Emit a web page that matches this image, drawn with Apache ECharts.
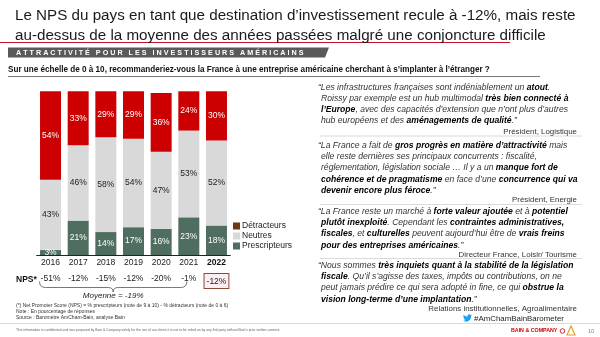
<!DOCTYPE html>
<html>
<head>
<meta charset="utf-8">
<script src="https://cdn.jsdelivr.net/npm/echarts@6/dist/echarts.min.js"></script>
<style>
  html, body { margin: 0; padding: 0; background: #fff; }
  #chart { width: 600px; height: 337px; }
</style>
</head>
<body>
<div id="chart"></div>
<script>
// Survey years and response shares (%)
const years = ['2016', '2017', '2018', '2019', '2020', '2021', '2022'];
const prescripteurs = [3, 21, 14, 17, 16, 23, 18];
const neutres = [43, 46, 58, 54, 47, 53, 52];
const detracteurs = [54, 33, 29, 29, 36, 24, 30];
// Net Promoter Score per year, as printed under the axis
const nps = ['-51%', '-12%', '-15%', '-12%', '-20%', '-1%', '-12%'];
const moyenne = '-19%';

const FONT = '"Liberation Sans", Arial, sans-serif';
const NARROW = '"Liberation Sans Narrow", "Liberation Sans", Arial, sans-serif';
const RED = '#CC0000';
const GREY = '#D9D9D9';
const GREEN = '#4F6E60';

const chart = echarts.init(document.getElementById('chart'), null, { renderer: 'canvas' });

function barLabel(color) {
  return {
    show: true,
    position: 'inside',
    color: color,
    fontFamily: FONT,
    fontSize: 8.5,
    formatter: p => p.value + '%'
  };
}

const option = {
  animation: false,
  backgroundColor: '#fff',
  grid: { left: 36.7, top: 91.3, width: 193.6, height: 163.7 },
  legend: {
    orient: 'vertical',
    left: 233,
    top: 221.5,
    padding: 0,
    itemWidth: 7,
    itemHeight: 7,
    itemGap: 1,
    icon: 'rect',
    textStyle: { fontFamily: FONT, fontSize: 8.5, color: '#222', padding: [0, 0, 0, -3] },
    data: [
      { name: 'Détracteurs', itemStyle: { color: '#6B3A12' } },
      { name: 'Neutres' },
      { name: 'Prescripteurs' }
    ]
  },
  xAxis: [
    {
      type: 'category',
      data: years,
      axisLine: { lineStyle: { color: '#222', width: 1 } },
      axisTick: { show: false },
      axisLabel: {
        interval: 0,
        margin: 3,
        fontFamily: FONT,
        fontSize: 8.5,
        color: '#222',
        formatter: (v, i) => i === years.length - 1 ? '{b|' + v + '}' : v,
        rich: { b: { fontWeight: 'bold', fontFamily: FONT, fontSize: 8.5, color: '#111' } }
      }
    },
    {
      type: 'category',
      data: nps,
      position: 'bottom',
      offset: 16,
      axisLine: { show: false },
      axisTick: { show: false },
      axisLabel: {
        interval: 0,
        margin: 3,
        fontFamily: FONT,
        fontSize: 8.5,
        color: '#222',
        formatter: (v, i) => i === nps.length - 1 ? '{box|' + v + '}' : v,
        rich: {
          box: {
            fontFamily: FONT, fontSize: 8.5, color: '#222',
            backgroundColor: '#FCEFF4', borderColor: '#8A4A3C', borderWidth: 1,
            padding: [3, 2, 2, 2]
          }
        }
      }
    }
  ],
  yAxis: { type: 'value', min: 0, max: 100, show: false },
  series: [
    {
      name: 'Prescripteurs', type: 'bar', stack: 'a', barWidth: 21,
      itemStyle: { color: GREEN },
      label: barLabel('#fff'),
      data: prescripteurs
    },
    {
      name: 'Neutres', type: 'bar', stack: 'a', barWidth: 21,
      itemStyle: { color: GREY },
      label: barLabel('#222'),
      data: neutres
    },
    {
      name: 'Détracteurs', type: 'bar', stack: 'a', barWidth: 21,
      itemStyle: { color: RED },
      label: barLabel('#fff'),
      data: detracteurs
    }
  ]
};
chart.setOption(option);

// ---- text and decoration around the chart ----
const g = [];

function txt(x, y, text, opts) {
  g.push({
    type: 'text', x: x, y: y, z: 10,
    style: Object.assign({
      text: text, fontFamily: FONT, fontSize: 8, fill: '#222',
      textVerticalAlign: 'middle', textAlign: 'left'
    }, opts || {})
  });
}
function line(x1, y1, x2, y2, color, w) {
  g.push({ type: 'line', z: 5, shape: { x1, y1, x2, y2 }, style: { stroke: color, lineWidth: w } });
}
function curve(x1, y1, cx, cy, x2, y2, color, w) {
  g.push({ type: 'bezierCurve', z: 10, shape: { x1, y1, x2, y2, cpx1: cx, cpy1: cy }, style: { stroke: color, lineWidth: w, fill: null } });
}

// Title
txt(15, 16, 'Le NPS du pays en tant que destination d\u2019investissement recule à -12%, mais reste', { fontSize: 15.2, fill: '#1a1a1a' });
txt(15, 35.5, 'au-dessus de la moyenne des années passées malgré une conjoncture difficile', { fontSize: 15.2, fill: '#1a1a1a' });
line(0, 42.5, 510, 42.5, '#C8102E', 1.2);

// Section banner
g.push({ type: 'polygon', z: 4, shape: { points: [[8, 47.5], [329, 47.5], [325, 57.5], [8, 57.5]] }, style: { fill: '#595959' } });
const banner = 'ATTRACTIVITÉ POUR LES INVESTISSEURS AMÉRICAINS'.split(' ').map(w => w.split('').join(' ')).join('   ');
txt(16, 52.8, banner, { fontSize: 7.2, fontWeight: 'bold', fill: '#fff' });

// Survey question
txt(8, 70, 'Sur une échelle de 0 à 10, recommanderiez-vous la France à une entreprise américaine cherchant à s\u2019implanter à l\u2019étranger ?', { fontSize: 8.15, fontWeight: 'bold', fontFamily: NARROW, fill: '#111' });
line(8, 76.5, 540, 76.5, '#555', 0.8);

// NPS row caption
txt(16, 279.5, 'NPS*', { fontSize: 8.5, fontWeight: 'bold', fill: '#111' });

// Footnotes
txt(16, 306, '(*) Net Promoter Score (NPS) = % prescripteurs (note de 9 à 10) - % détracteurs (note de 0 à 6)', { fontSize: 5, fill: '#333' });
txt(16, 312, 'Note : En pourcentage de réponses', { fontSize: 5, fill: '#333' });
txt(16, 318, 'Source : Baromètre AmCham-Bain, analyse Bain', { fontSize: 5, fill: '#333' });
line(0, 323.5, 600, 323.5, '#cfcfcf', 0.8);
txt(16, 330.5, 'This information is confidential and was prepared by Bain & Company solely for the use of our client; it is not to be relied on by any 3rd party without Bain\u2019s prior written consent.', { fontSize: 3.4, fill: '#666' });

// Quotes
const QS = 8.6;
const rich = { b: { fontWeight: 'bold', fontStyle: 'italic', fontFamily: FONT, fontSize: QS, fill: '#000' } };
function q(x, y, s) {
  txt(x, y, s, { fontSize: QS, fontStyle: 'italic', fill: '#333', rich: rich });
}
function attrib(y, s) {
  txt(577, y, s, { fontSize: 7.9, fill: '#333', textAlign: 'right' });
}

q(318, 88, '\u201CLes infrastructures françaises sont indéniablement un {b|atout}.');
q(321, 99, 'Roissy par exemple est un hub multimodal {b|très bien connecté à}');
q(321, 110, '{b|l\u2019Europe}, avec des capacités d\u2019extension que n\u2019ont plus d\u2019autres');
q(321, 121, 'hub européens et des {b|aménagements de qualité}.\u201D');
attrib(131.5, 'Président, Logistique');
line(320, 136, 582, 136, '#d0d0d0', 0.8);

q(318, 146, '\u201CLa France a fait de {b|gros progrès en matière d\u2019attractivité} mais');
q(321, 157, 'elle reste dernières ses principaux concurrents : fiscalité,');
q(321, 168, 'réglementation, législation sociale \u2026 Il y a un {b|manque fort de}');
q(321, 180, '{b|cohérence et de pragmatisme} en face d\u2019une {b|concurrence qui va}');
q(321, 191, '{b|devenir encore plus féroce}.\u201D');
attrib(200, 'Président, Energie');
line(320, 204.5, 582, 204.5, '#d0d0d0', 0.8);

q(318, 211.5, '\u201CLa France reste un marché à {b|forte valeur ajoutée} et à {b|potentiel}');
q(321, 223, '{b|plutôt inexploité}. Cependant les {b|contraintes administratives,}');
q(321, 234, '{b|fiscales}, et {b|culturelles} peuvent aujourd\u2019hui être de {b|vrais freins}');
q(321, 245.5, '{b|pour des entreprises américaines}.\u201D');
attrib(254.5, 'Directeur France, Loisir/ Tourisme');
line(320, 258.5, 582, 258.5, '#d0d0d0', 0.8);

q(318, 265.5, '\u201CNous sommes {b|très inquiets quant à la stabilité de la législation}');
q(321, 277, '{b|fiscale}. Qu\u2019il s\u2019agisse des taxes, impôts ou contributions, on ne');
q(321, 288, 'peut jamais prédire ce qui sera adopté in fine, ce qui {b|obstrue la}');
q(321, 299.5, '{b|vision long-terme d\u2019une implantation}.\u201D');
attrib(308.5, 'Relations institutionnelles, Agroalimentaire');

// Hashtag with bird icon
const birdSvg = '<svg xmlns="http://www.w3.org/2000/svg" viewBox="0 0 24 24"><path fill="#1DA1F2" d="M23.953 4.57a10 10 0 01-2.825.775 4.958 4.958 0 002.163-2.723c-.951.555-2.005.959-3.127 1.184a4.92 4.92 0 00-8.384 4.482C7.69 8.095 4.067 6.13 1.64 3.162a4.822 4.822 0 00-.666 2.475c0 1.710.87 3.213 2.188 4.096a4.904 4.904 0 01-2.228-.616v.06a4.923 4.923 0 003.946 4.827 4.996 4.996 0 01-2.212.085 4.936 4.936 0 004.604 3.417 9.867 9.867 0 01-6.102 2.105c-.39 0-.779-.023-1.17-.067a13.995 13.995 0 007.557 2.209c9.053 0 13.998-7.496 13.998-13.985 0-.21 0-.42-.015-.63A9.935 9.935 0 0024 4.59z"/></svg>';
g.push({
  type: 'image', z: 10,
  style: { image: 'data:image/svg+xml;charset=utf-8,' + encodeURIComponent(birdSvg), x: 463, y: 313.5, width: 9, height: 9 }
});
txt(474, 318.5, '#AmChamBainBarometer', { fontSize: 7.9, fill: '#222' });

// Footer brand mark and page number
txt(511, 331, 'BAIN & COMPANY', { fontSize: 5.3, fontWeight: 'bold', fill: '#CC0000' });
g.push({ type: 'circle', z: 10, shape: { cx: 562.5, cy: 331, r: 2.3 }, style: { fill: 'none', stroke: '#CC0000', lineWidth: 0.8 } });
g.push({ type: 'polygon', z: 10, shape: { points: [[567, 335], [571, 326], [575, 335]] }, style: { fill: 'none', stroke: '#E0A030', lineWidth: 1.2 } });
txt(588, 331, '10', { fontSize: 5.6, fill: '#888' });

// Brace under the 2016-2021 NPS values and the average
const x0 = chart.convertToPixel({ xAxisIndex: 0 }, 0) - 11;
const x1 = chart.convertToPixel({ xAxisIndex: 0 }, years.length - 2) - 2;
const xm = (x0 + x1) / 2;
const yt = 281.5, ymid = 287.5, yb = 292;
const BC = '#555', BW = 0.8;
curve(x0, yt, x0, ymid, x0 + 6, ymid, BC, BW);
line(x0 + 6, ymid, xm - 5, ymid, BC, BW);
curve(xm - 5, ymid, xm, ymid, xm, yb, BC, BW);
curve(xm, yb, xm, ymid, xm + 5, ymid, BC, BW);
line(xm + 5, ymid, x1 - 6, ymid, BC, BW);
curve(x1 - 6, ymid, x1, ymid, x1, yt, BC, BW);
txt(xm, 295.5, 'Moyenne = ' + moyenne, { fontSize: 8, fontStyle: 'italic', fill: '#222', textAlign: 'center' });

chart.setOption({ graphic: g });
</script>
</body>
</html>
